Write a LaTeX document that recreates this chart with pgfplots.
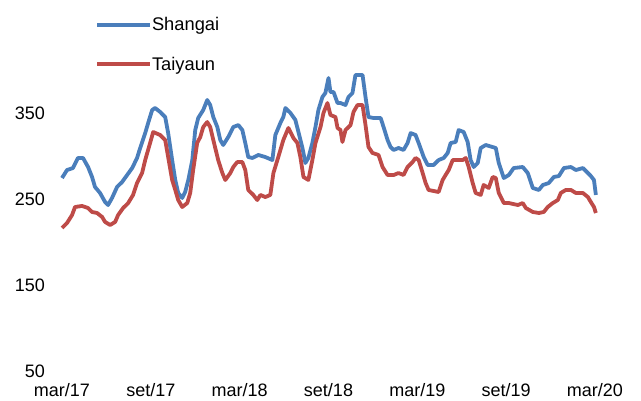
\documentclass[border=0pt]{standalone}
\usepackage{pgfplots}
\pgfplotsset{compat=1.18}
\usepackage{fontspec}
\setmainfont{Liberation Sans}
\definecolor{sblue}{HTML}{4A7EBB}
\definecolor{sred}{HTML}{BE4B48}
\begin{document}
\begin{tikzpicture}
\path[use as bounding box] (-62pt,-30pt) rectangle (579pt,371pt);
\begin{axis}[
  scale only axis, width=533pt, height=301pt,
  xmin=0, xmax=36, ymin=50, ymax=400,
  axis lines=none,
  hide x axis=false, hide y axis=false,
  axis x line*=bottom, axis y line*=left,
  x axis line style={draw=none}, y axis line style={draw=none},
  major tick length=0pt,
  xtick={0,6,12,18,24,30,36},
  xticklabels={mar/17,set/17,mar/18,set/18,mar/19,set/19,mar/20},
  ytick={50,150,250,350},
  /pgf/number format/assume math mode=true,
  tick label style={font=\fontsize{18}{20}\selectfont},
  yticklabel style={anchor=east, inner sep=0pt, xshift=-17pt},
  xticklabel style={anchor=north, inner sep=0pt, yshift=-12.5pt},
  clip=false,
  legend style={draw=none, fill=none, at={(rel axis cs:0.062,1.176)}, anchor=north west,
    font=\fontsize{18.3}{20}\selectfont, row sep=25pt, inner sep=0pt,
    nodes={inner sep=0pt, anchor=west}},
  legend cell align=left,
  legend image code/.code={\draw[#1, line width=3.8pt] (0pt,0pt) -- (53pt,0pt);},
  every axis plot/.append style={line width=3.8pt, line join=round, no markers},
]
\addplot[color=sblue] coordinates {
(0,274.4)(0.34,283.7)(0.74,286.0)(1.08,297.7)(1.42,297.7)(1.76,287.2)(2.03,275.6)(2.23,264.0)
(2.57,257.0)(2.91,246.5)(3.11,243.0)(3.38,251.2)(3.72,264.0)(4.06,269.8)(4.40,277.9)(4.74,286.0)
(5.07,297.7)(5.28,309.3)(5.62,326.7)(5.82,338.4)(6.09,353.5)(6.29,355.8)(6.63,351.2)(6.97,345.3)
(7.17,326.7)(7.44,295.3)(7.65,272.1)(7.85,257.0)(8.12,251.2)(8.32,258.1)(8.53,272.1)(8.80,295.3)
(9.00,330.2)(9.20,344.2)(9.54,353.5)(9.81,365.1)(10.01,359.3)(10.22,345.3)(10.49,333.7)(10.69,318.6)
(10.89,312.8)(11.23,322.1)(11.57,333.7)(11.91,336.0)(12.18,330.2)(12.38,315.1)(12.58,298.8)(12.86,297.7)
(13.26,301.2)(13.73,298.8)(14.21,295.3)(14.41,324.4)(14.75,338.4)(14.95,345.3)(15.09,355.8)(15.43,350.0)
(15.76,342.0)(15.97,327.9)(16.24,309.3)(16.44,291.9)(16.64,297.7)(16.91,315.1)(17.12,333.7)(17.32,353.5)
(17.59,368.6)(17.79,373.3)(18.00,390.7)(18.13,374.4)(18.34,374.4)(18.61,361.6)(18.81,361.6)(19.15,359.3)
(19.35,368.6)(19.62,373.3)(19.82,394.2)(20.30,394.2)(20.50,368.6)(20.70,345.3)(21.04,344.2)(21.52,344.2)
(21.72,333.7)(21.99,318.6)(22.19,310.5)(22.40,307.0)(22.73,309.3)(23.07,307.0)(23.34,315.1)(23.55,326.7)
(23.88,324.4)(24.09,315.1)(24.43,298.8)(24.70,289.5)(25.10,289.5)(25.44,295.3)(25.78,297.7)(26.05,303.5)
(26.25,315.1)(26.59,316.3)(26.79,330.2)(27.13,327.9)(27.40,316.3)(27.60,295.3)(27.81,287.2)(28.08,291.9)
(28.28,309.3)(28.62,312.8)(29.30,309.3)(29.50,291.9)(29.84,274.4)(30.18,277.9)(30.51,286.0)(31.12,287.2)
(31.46,280.2)(31.80,262.8)(32.21,260.5)(32.48,266.3)(32.88,268.6)(33.22,275.6)(33.56,276.7)(33.90,286.0)
(34.37,287.2)(34.71,283.7)(35.18,286.0)(35.52,280.2)(35.72,276.7)(35.93,272.1)(36.06,254.7)
};
\addlegendentry{Shangai}
\addplot[color=sred] coordinates {
(0,216.3)(0.34,222.1)(0.68,231.4)(0.88,240.7)(1.35,241.9)(1.76,239.5)(2.03,234.9)(2.37,233.7)
(2.71,229.1)(2.91,223.3)(3.25,219.8)(3.59,223.3)(3.79,231.4)(4.13,239.5)(4.47,245.3)(4.80,254.7)
(5.07,268.6)(5.41,280.2)(5.62,295.3)(5.95,315.1)(6.16,327.9)(6.63,324.4)(6.97,318.6)(7.17,298.8)
(7.44,272.1)(7.65,260.5)(7.85,248.8)(8.12,240.7)(8.46,245.3)(8.66,257.0)(8.86,283.7)(9.13,315.1)
(9.34,322.1)(9.54,333.7)(9.81,339.5)(10.01,333.7)(10.22,318.6)(10.55,295.3)(10.83,280.2)(11.03,272.1)
(11.37,280.2)(11.57,287.2)(11.84,293.0)(12.18,293.0)(12.38,283.7)(12.58,260.5)(12.92,254.7)(13.19,248.8)
(13.40,254.7)(13.73,252.3)(14.07,254.7)(14.28,280.2)(14.61,298.8)(14.95,318.6)(15.29,332.6)(15.63,320.9)
(15.90,315.1)(16.10,298.8)(16.31,275.6)(16.64,272.1)(16.91,295.3)(17.12,315.1)(17.46,333.7)(17.66,350.0)
(17.93,361.6)(18.13,347.7)(18.47,345.3)(18.61,332.6)(18.81,330.2)(18.94,316.3)(19.15,330.2)(19.49,336.0)
(19.69,351.2)(19.96,359.3)(20.30,359.3)(20.50,336.0)(20.70,310.5)(20.97,303.5)(21.38,301.2)(21.65,287.2)
(21.99,277.9)(22.40,277.9)(22.73,280.2)(23.07,277.9)(23.34,287.2)(23.68,293.0)(23.88,297.7)(24.09,295.3)
(24.36,280.2)(24.56,268.6)(24.76,260.5)(25.44,258.1)(25.71,272.1)(25.91,277.9)(26.12,283.7)(26.39,295.3)
(27.06,295.3)(27.27,297.7)(27.47,287.2)(27.74,268.6)(27.94,257.0)(28.28,254.7)(28.48,266.3)(28.82,262.8)
(29.09,275.6)(29.30,274.4)(29.50,257.0)(29.84,245.3)(30.18,245.3)(30.79,243.0)(31.12,245.3)(31.33,239.5)
(31.80,234.9)(32.21,233.7)(32.54,234.9)(32.81,240.7)(33.15,245.3)(33.49,248.8)(33.69,257.0)(34.03,260.5)
(34.37,260.5)(34.71,257.0)(35.18,257.0)(35.52,252.3)(35.72,246.5)(35.93,240.7)(36.06,233.7)
};
\addlegendentry{Taiyaun}
\end{axis}
\end{tikzpicture}
\end{document}
